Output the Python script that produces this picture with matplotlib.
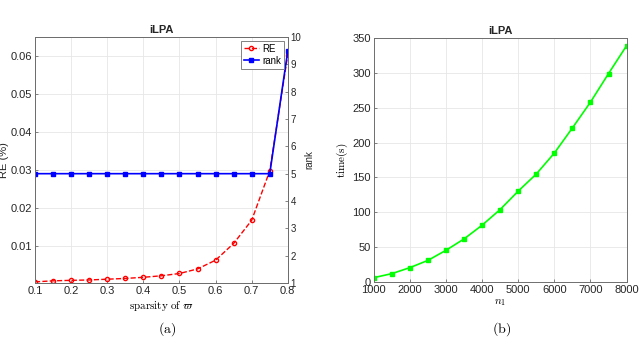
import matplotlib
matplotlib.use("Agg")
import matplotlib.pyplot as plt

plt.rcParams['font.family'] = ['Liberation Sans', 'DejaVu Sans']
plt.rcParams['mathtext.fontset'] = 'cm'

# panel (a): sparsity vs RE and rank
sparsity = [0.1, 0.15, 0.2, 0.25, 0.3, 0.35, 0.4, 0.45, 0.5, 0.55, 0.6, 0.65, 0.7, 0.75, 0.8]
re_vals = [0.0006, 0.00087, 0.001, 0.0011, 0.0013, 0.0015, 0.0018, 0.0022, 0.0028,
           0.004, 0.0063, 0.0107, 0.0168, 0.0298, 0.0604]
rank_vals = [5, 5, 5, 5, 5, 5, 5, 5, 5, 5, 5, 5, 5, 5, 9.5]

# panel (b): n1 vs time
n1 = [1000, 1500, 2000, 2500, 3000, 3500, 4000, 4500, 5000, 5500, 6000, 6500, 7000, 7500, 8000]
time_s = [6.2, 12, 20.6, 31, 45.5, 61.8, 81.5, 104, 130.4, 154.9, 185, 221, 258, 299, 339]

axis_col = '#6e6e6e'
label_col = '#262626'
grid_col = '#e6e6e6'

fig = plt.figure(figsize=(6.4, 3.45), dpi=100)

def style(ax):
    ax.grid(True, color=grid_col, linewidth=0.6)
    ax.set_axisbelow(True)
    for s in ax.spines.values():
        s.set_color(axis_col)
        s.set_linewidth(0.7)
    ax.tick_params(direction='in', length=2.5, width=0.6, color=axis_col,
                   labelcolor=label_col, labelsize=8, pad=2)

# ---- (a)
ax1 = fig.add_axes([0.0547, 0.1797, 0.395, 0.713])
style(ax1)
l1, = ax1.plot(sparsity, re_vals, color='red', linestyle='--', linewidth=1.0,
               marker='o', markersize=3, markerfacecolor='none',
               markeredgewidth=1.0, label='RE')
ax1.set_xlim(0.1, 0.8)
ax1.set_ylim(0.0003, 0.065)
ax1.set_xticks([0.1, 0.2, 0.3, 0.4, 0.5, 0.6, 0.7, 0.8])
ax1.set_xticklabels(['0.1', '0.2', '0.3', '0.4', '0.5', '0.6', '0.7', '0.8'])
ax1.set_yticks([0.01, 0.02, 0.03, 0.04, 0.05, 0.06])
ax1.set_yticklabels(['0.01', '0.02', '0.03', '0.04', '0.05', '0.06'])
ax1.set_ylabel('RE (%)', fontsize=8, labelpad=1, color=label_col)
ax1.set_xlabel(r'$\mathrm{sparsity\ of}\ \varpi$', fontsize=8, labelpad=2)
ax1.set_title('iLPA', fontsize=8, fontweight='bold', pad=3, color=label_col)

ax2 = ax1.twinx()
l2, = ax2.plot(sparsity, rank_vals, color='blue', linewidth=1.2,
               marker='s', markersize=2.5, label='rank')
ax2.set_ylim(1, 10)
ax2.set_yticks(range(1, 11))
for s in ax2.spines.values():
    s.set_color(axis_col)
    s.set_linewidth(0.7)
ax2.tick_params(direction='in', length=2.5, width=0.6, color=axis_col,
                labelcolor=label_col, labelsize=7, pad=2)
ax2.set_ylabel('rank', fontsize=7, labelpad=2, color=label_col)
leg = ax2.legend([l1, l2], ['RE', 'rank'], loc='upper right', fontsize=7,
                 handlelength=1.6, handletextpad=0.3, borderpad=0.3,
                 labelspacing=0.2, fancybox=False, framealpha=1,
                 borderaxespad=0.4)
leg.get_frame().set_edgecolor(axis_col)
leg.get_frame().set_linewidth(0.6)

# ---- (b)
ax3 = fig.add_axes([0.584, 0.1826, 0.395, 0.707])
style(ax3)
ax3.plot(n1, time_s, color='#00ff00', linewidth=1.2, marker='s', markersize=2.5)
ax3.set_xlim(1000, 8000)
ax3.set_ylim(0, 350)
ax3.set_xticks(range(1000, 8001, 1000))
ax3.set_yticks(range(0, 351, 50))
ax3.set_ylabel(r'$\mathrm{time(s)}$', fontsize=8, labelpad=2)
ax3.set_xlabel(r'$n_1$', fontsize=8, labelpad=2)
ax3.set_title('iLPA', fontsize=8, fontweight='bold', pad=3, color=label_col)

fig.text(0.261, 0.045, r'$\mathrm{(a)}$', fontsize=10, ha='center', va='center')
fig.text(0.784, 0.045, r'$\mathrm{(b)}$', fontsize=10, ha='center', va='center')

fig.savefig('out.png', dpi=100)
